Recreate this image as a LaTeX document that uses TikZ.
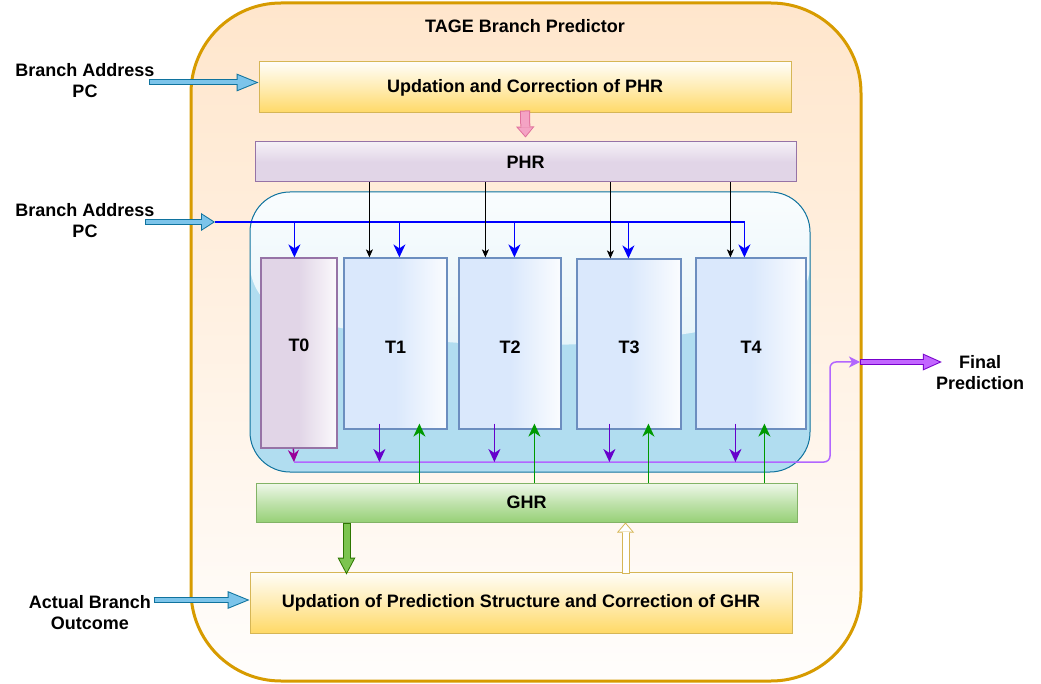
\documentclass[tikz,border=0pt]{standalone}
\usepackage{fontspec}
\setmainfont{Liberation Sans}
\usetikzlibrary{arrows.meta}
\definecolor{orangeline}{HTML}{D79B00}
\definecolor{peach}{HTML}{FFE6CC}
\definecolor{yelline}{HTML}{D6B656}
\definecolor{yelfill}{HTML}{FFD966}
\definecolor{lilac}{HTML}{E1D5E7}
\definecolor{lilacline}{HTML}{9673A6}
\definecolor{skyfill}{HTML}{B1DDF0}
\definecolor{skyline}{HTML}{10739E}
\definecolor{skyarrow}{HTML}{7CC4EA}
\definecolor{tabfill}{HTML}{DAE8FC}
\definecolor{tabline}{HTML}{6C8EBF}
\definecolor{leaf}{HTML}{97D077}
\definecolor{leafline}{HTML}{82B366}
\definecolor{pcbus}{HTML}{0000FF}
\definecolor{voteline}{HTML}{6600CC}
\definecolor{baseline}{HTML}{990099}
\definecolor{votebus}{HTML}{B266FF}
\definecolor{ghrline}{HTML}{009900}
\definecolor{finalfill}{HTML}{C266FF}
\definecolor{finalline}{HTML}{7700CC}
\definecolor{pinkfill}{HTML}{F4A3C4}
\definecolor{pinkline}{HTML}{E0709B}
\definecolor{ghrfill}{HTML}{7CC44F}
\definecolor{ghrdraw}{HTML}{2D7600}
\begin{document}
\begin{tikzpicture}[x=1pt,y=-1pt,
  every node/.style={inner sep=0pt,font=\bfseries\fontsize{18}{21}\selectfont},
  shell/.style={draw=orangeline,line width=3pt,top color=peach,bottom color=peach!6!white,rounded corners=90pt},
  stage/.style={draw=yelline,line width=1pt,top color=yelfill!4!white,bottom color=yelfill,middle color=yelfill!50!white},
  phrreg/.style={draw=lilacline,line width=1pt,top color=white!65!lilac,bottom color=lilac,middle color=lilac},
  ghrreg/.style={draw=leafline,line width=1pt,top color=white!85!leaf,bottom color=leaf,middle color=white!40!leaf},
  glass/.style={draw=skyline,line width=1pt,fill=skyfill,rounded corners=40pt,
    path picture={\fill[top color=white!93!skyfill,bottom color=white!45!skyfill]
      (path picture bounding box.north west) -- (path picture bounding box.north east)
      -- ([yshift=-113pt]path picture bounding box.north east)
      .. controls +(-180pt,-50pt) and +(180pt,-50pt) .. ([yshift=-113pt]path picture bounding box.north west) -- cycle;}},
  slot/.style={draw=tabline,line width=1.2pt,left color=tabfill,right color=white!88!tabfill,middle color=tabfill,text height=20pt},
  baseslot/.style={draw=lilacline,line width=1.2pt,left color=lilac,right color=white!88!lilac,middle color=lilac,text depth=16pt},
  pcdrop/.style={draw=pcbus,line width=1.5pt,-{Stealth[length=13pt,width=12pt,inset=4pt]}},
  hist/.style={draw=black,line width=0.8pt,-{Stealth[length=8pt,width=7pt,inset=2pt]}},
  vote/.style={draw=voteline,line width=1.5pt,-{Stealth[length=13pt,width=12pt,inset=4pt]}},
  basevote/.style={draw=baseline,line width=1.5pt,-{Stealth[length=12pt,width=11pt,inset=4pt]}},
  refresh/.style={draw=ghrline,line width=1.5pt,-{Stealth[length=13pt,width=12pt,inset=4pt]}},
  votebusline/.style={draw=votebus,line width=1.5pt,rounded corners=6pt,-{Stealth[length=11pt,width=11pt,inset=3pt]}},
  pcarrow/.style={draw=skyline,line width=6pt,-{Triangle[length=22pt,width=18pt,line width=0pt]},
    postaction={draw=skyarrow,line width=4pt,shorten <=1pt,shorten >=2.65pt,-{Triangle[length=18.35pt,width=15pt,line width=0pt]}}},
  pcarrowshort/.style={draw=skyline,line width=6pt,-{Triangle[length=14pt,width=18pt,line width=0pt]},
    postaction={draw=skyarrow,line width=4pt,shorten <=1pt,shorten >=1.85pt,-{Triangle[length=11.15pt,width=14.5pt,line width=0pt]}}},
  finalarrow/.style={draw=finalline,line width=6pt,-{Triangle[length=19pt,width=17pt,line width=0pt]},
    postaction={draw=finalfill,line width=4pt,shorten <=1pt,shorten >=2.45pt,-{Triangle[length=15.55pt,width=13.9pt,line width=0pt]}}},
  pinkarrow/.style={draw=pinkline,line width=10pt,-{Triangle[length=11pt,width=18.5pt,line width=0pt]},
    postaction={draw=pinkfill,line width=8pt,shorten <=1pt,shorten >=1.6pt,-{Triangle[length=8.4pt,width=14.5pt,line width=0pt]}}},
  ghrarrow/.style={draw=ghrdraw,line width=8pt,-{Triangle[length=17pt,width=18pt,line width=0pt]},
    postaction={draw=ghrfill,line width=6pt,shorten <=1pt,shorten >=2.1pt,-{Triangle[length=13.9pt,width=14.8pt,line width=0pt]}}},
  backarrow/.style={draw=yelline,line width=8pt,-{Triangle[length=10pt,width=17pt,line width=0pt]},
    postaction={draw=white,line width=6pt,shorten <=1pt,shorten >=1.55pt,-{Triangle[length=7.45pt,width=13pt,line width=0pt]}}}
]
\useasboundingbox (0,0) rectangle (1041,684);
\node[shell,minimum width=670pt,minimum height=678pt] (outer) at (526,342) {};
\node (title) at (525,26) {TAGE Branch Predictor};
\node[stage,minimum width=532pt,minimum height=51pt] (upd) at (525,87.5) {Updation and Correction of PHR};
\node[phrreg,minimum width=541pt,minimum height=40pt] (phr) at (525.5,162) {PHR};
\node[glass,minimum width=560pt,minimum height=280pt] (tables) at (530,332) {};
\node[baseslot,minimum width=76pt,minimum height=190pt] (t0) at (299,353) {T0};
\node[slot,minimum width=103pt,minimum height=171pt] (t1) at (395.5,343.5) {T1};
\node[slot,minimum width=102pt,minimum height=171pt] (t2) at (510,343.5) {T2};
\node[slot,minimum width=104pt,minimum height=170pt] (t3) at (629,344) {T3};
\node[slot,minimum width=110pt,minimum height=171pt] (t4) at (751,343.5) {T4};
\node[ghrreg,minimum width=541pt,minimum height=39pt] (ghr) at (526.5,502.5) {GHR};
\node[stage,minimum width=542pt,minimum height=61pt] (updg) at (521,602.5) {Updation of Prediction Structure and Correction of GHR};
\node[align=center] (pc1) at (85,80.5) {Branch Address\\PC};
\node[align=center] (pc2) at (85,220.5) {Branch Address\\PC};
\node[align=center] (outcome) at (90,612.5) {Actual Branch\\Outcome};
\node[align=center] (final) at (980,372.5) {Final\\Prediction};
\coordinate (pcin) at (215,222);
\coordinate (votejoin) at (294,462);
\coordinate (finalin) at (860,362);
\draw[pcarrow] ([xshift=-110pt,yshift=5pt]upd.west) -- ([yshift=5pt]upd.west);
\draw[pcarrowshort] ([xshift=-70pt]pcin) -- (pcin);
\draw[pcarrow] ([xshift=-96pt,yshift=2.5pt]updg.west) -- ([yshift=2.5pt]updg.west);
\draw[pinkarrow] ([yshift=3pt]upd.south) -- ([yshift=4pt]phr.north);
\draw[pcdrop] (pcin) -| ([xshift=49pt]t4.north west);
\foreach \t/\dx in {t0/34,t1/56,t2/56,t3/52}
  \draw[pcdrop] ([xshift=\dx pt]\t.north west |- pcin) -- ([xshift=\dx pt]\t.north west);
\foreach \t/\dx in {t1/26,t2/27,t3/34,t4/35}
  \draw[hist] ([xshift=\dx pt]\t.north west |- phr.south) -- ([xshift=\dx pt]\t.north west);
\draw[votebusline] (votejoin) -- (830,462) -- (830,362) -- (finalin);
\draw[basevote] ([xshift=33pt]t0.south west) -- (votejoin);
\foreach \t/\dx in {t1/36,t2/36,t3/33,t4/40}
  \draw[vote] ([xshift=\dx pt,yshift=6pt]\t.south west) -- ([xshift=\dx pt]\t.south west |- votejoin);
\foreach \t/\dx in {t1/76,t2/76,t3/72,t4/69}
  \draw[refresh] ([xshift=\dx pt]\t.south west |- ghr.north) -- ([xshift=\dx pt,yshift=6pt]\t.south west);
\draw[finalarrow] (finalin) -- ([xshift=6pt]final.west |- finalin);
\draw[ghrarrow] ([xshift=91pt]ghr.south west) -- ([xshift=97pt,yshift=-3pt]updg.north west);
\draw[backarrow] ([xshift=376pt,yshift=-2pt]updg.north west) -- ([xshift=370pt]ghr.south west);
\end{tikzpicture}
\end{document}
